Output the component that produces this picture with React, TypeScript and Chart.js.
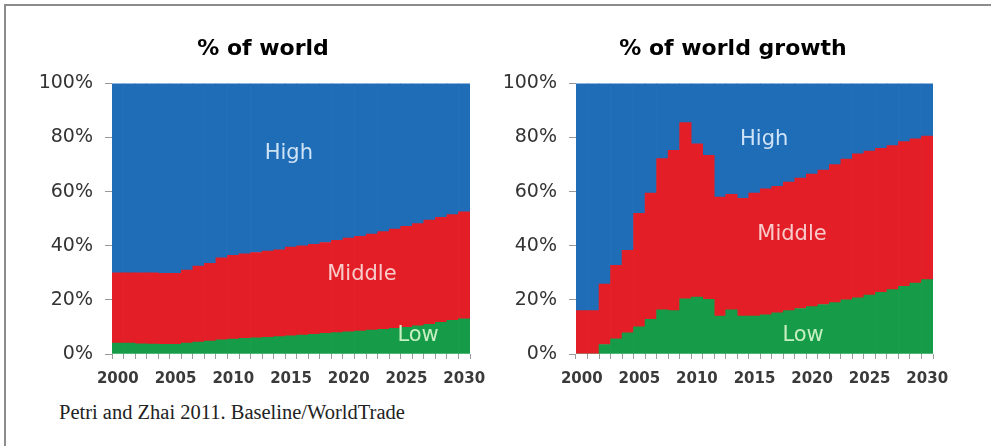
import React, { useEffect, useRef } from "react";
import { Chart, registerables } from "chart.js";

Chart.register(...registerables);

// ---------- DATA ----------
const years = [
  2000, 2001, 2002, 2003, 2004, 2005, 2006, 2007, 2008, 2009,
  2010, 2011, 2012, 2013, 2014, 2015, 2016, 2017, 2018, 2019,
  2020, 2021, 2022, 2023, 2024, 2025, 2026, 2027, 2028, 2029, 2030,
];
const labelledYears = [2000, 2005, 2010, 2015, 2020, 2025, 2030];
const yTickValues = [0, 20, 40, 60, 80, 100];

// % of world (shares, each year sums to 100)
const worldLow = [
  4.0, 4.0, 3.8, 3.7, 3.6, 3.6, 4.0, 4.4, 4.8, 5.2,
  5.5, 5.8, 6.0, 6.2, 6.4, 6.7, 7.0, 7.3, 7.6, 7.9,
  8.2, 8.5, 8.8, 9.1, 9.5, 9.9, 10.4, 11.0, 11.7, 12.4, 13.0,
];
const worldMiddle = [
  26.0, 26.0, 26.2, 26.3, 26.2, 26.2, 27.0, 28.1, 28.7, 30.3,
  31.0, 31.2, 31.5, 31.8, 32.1, 32.8, 33.0, 33.2, 33.6, 34.1,
  34.6, 35.0, 35.5, 36.1, 36.7, 37.3, 37.8, 38.5, 38.8, 39.1, 39.5,
];
const worldHigh = [
  70.0, 70.0, 70.0, 70.0, 70.2, 70.2, 69.0, 67.5, 66.5, 64.5,
  63.5, 63.0, 62.5, 62.0, 61.5, 60.5, 60.0, 59.5, 58.8, 58.0,
  57.2, 56.5, 55.7, 54.8, 53.8, 52.8, 51.8, 50.5, 49.5, 48.5, 47.5,
];

// % of world growth
const growthLow = [
  0.0, 0.0, 3.5, 5.6, 7.8, 10.0, 12.8, 16.3, 16.0, 20.4,
  21.0, 20.2, 14.0, 16.3, 14.0, 14.0, 14.5, 15.2, 16.0, 16.8,
  17.5, 18.3, 19.0, 20.0, 20.8, 21.8, 22.8, 23.8, 25.0, 26.2, 27.5,
];
const growthMiddle = [
  16.0, 16.0, 22.3, 27.2, 30.5, 42.0, 46.7, 55.9, 59.3, 65.1,
  56.7, 53.2, 44.0, 42.7, 43.5, 45.5, 46.5, 46.8, 47.5, 48.2,
  49.0, 49.7, 51.0, 52.0, 53.2, 53.2, 53.2, 53.2, 53.5, 53.3, 53.0,
];
const growthHigh = [
  84.0, 84.0, 74.2, 67.2, 61.7, 48.0, 40.5, 27.8, 24.7, 14.5,
  22.3, 26.6, 42.0, 41.0, 42.5, 40.5, 39.0, 38.0, 36.5, 35.0,
  33.5, 32.0, 30.0, 28.0, 26.0, 25.0, 24.0, 23.0, 21.5, 20.5, 19.5,
];

const seriesNames = ["Low", "Middle", "High"];
const caption = "Petri and Zhai 2011. Baseline/WorldTrade";

// ---------- STYLE ----------
const BLUE = "#1f6db7";
const RED = "#e31e26";
const GREEN = "#169b48";
const FONT = "'DejaVu Sans', sans-serif";

type RegionLabel = { text: string; xFrac: number; y: number; color: string };

const regionLabelsPlugin = {
  id: "regionLabels",
  afterDatasetsDraw(chart: any, _args: any, opts: any) {
    const { ctx, chartArea, scales } = chart;
    ctx.save();
    ctx.font = `21px ${FONT}`;
    ctx.textAlign = "center";
    ctx.textBaseline = "middle";
    for (const l of (opts.items || []) as RegionLabel[]) {
      const x = chartArea.left + l.xFrac * (chartArea.right - chartArea.left);
      const y = scales.y.getPixelForValue(l.y);
      ctx.fillStyle = l.color;
      ctx.fillText(l.text, x, y);
    }
    ctx.restore();
  },
};

type PanelProps = {
  title: string;
  low: number[];
  middle: number[];
  high: number[];
  regionLabels: RegionLabel[];
  left: number;
  top: number;
  width: number;
  height: number;
  yAxisWidth: number;
  rightSpace: number;
};

function Panel(p: PanelProps) {
  const ref = useRef<HTMLCanvasElement | null>(null);
  useEffect(() => {
    if (!ref.current) return;
    const ds = (label: string, data: number[], color: string) => ({
      label,
      data,
      backgroundColor: color,
      borderWidth: 0,
      barPercentage: 1,
      categoryPercentage: 1,
      yAxisID: "y",
    });
    const chart = new Chart(ref.current, {
      type: "bar",
      data: {
        labels: years.map(String),
        datasets: [
          ds(seriesNames[0], p.low, GREEN),
          ds(seriesNames[1], p.middle, RED),
          ds(seriesNames[2], p.high, BLUE),
        ],
      },
      options: {
        animation: false,
        responsive: false,
        layout: { padding: 0 },
        plugins: {
          legend: { display: false },
          tooltip: { enabled: false },
          title: {
            display: true,
            text: p.title,
            color: "#000",
            font: { family: FONT, size: 22, weight: "bold" },
            padding: { top: 6, bottom: 21 },
          },
          regionLabels: { items: p.regionLabels },
        } as any,
        scales: {
          x: {
            stacked: true,
            offset: true,
            grid: {
              display: true,
              drawOnChartArea: false,
              drawTicks: true,
              tickLength: 5,
              offset: true,
              color: "#9a9a9a",
            },
            border: { display: false },
            ticks: {
              autoSkip: false,
              maxRotation: 0,
              padding: 11,
              color: "#3a3a3a",
              font: { family: FONT, size: 15, weight: "bold" },
              callback: (_v: any, i: number) =>
                labelledYears.includes(years[i]) ? String(years[i]) : "",
            },
            afterFit: (s: any) => {
              s.height = 40;
              s.paddingLeft = 0;
              s.paddingRight = 0;
            },
          } as any,
          y: {
            stacked: true,
            min: 0,
            max: 100,
            grid: {
              drawOnChartArea: false,
              drawTicks: true,
              tickLength: 7,
              color: "#9a9a9a",
            },
            border: { display: false },
            ticks: {
              padding: 12,
              color: "#333",
              font: { family: FONT, size: 19 },
              callback: (v: any) => `${v}%`,
            },
            afterBuildTicks: (s: any) => {
              s.ticks = yTickValues.map((v) => ({ value: v }));
            },
            afterFit: (s: any) => {
              s.width = p.yAxisWidth;
            },
          } as any,
          spacer: {
            type: "linear",
            position: "right",
            display: true,
            grid: { display: false },
            border: { display: false },
            ticks: { display: false },
            afterFit: (s: any) => {
              s.width = p.rightSpace;
              s.paddingTop = 0;
              s.paddingBottom = 0;
            },
          } as any,
        },
      },
      plugins: [regionLabelsPlugin as any],
    });
    return () => chart.destroy();
  }, []);
  return (
    <canvas
      ref={ref}
      width={p.width}
      height={p.height}
      style={{ position: "absolute", left: p.left, top: p.top, width: p.width, height: p.height }}
    />
  );
}

export default function App() {
  return (
    <div
      style={{
        position: "absolute",
        left: 0,
        top: 0,
        width: 991,
        height: 446,
        background: "#fff",
        overflow: "hidden",
      }}
    >
      <div
        style={{
          position: "absolute",
          left: 4,
          top: 4,
          width: 991,
          height: 446,
          borderTop: "2px solid #8c8c8c",
          borderLeft: "2px solid #8c8c8c",
        }}
      />
      <Panel
        title="% of world"
        low={worldLow}
        middle={worldMiddle}
        high={worldHigh}
        regionLabels={[
          { text: "High", xFrac: 0.494, y: 74.2, color: "#cfe3f6" },
          { text: "Middle", xFrac: 0.698, y: 29.2, color: "#f8cccc" },
          { text: "Low", xFrac: 0.855, y: 7.0, color: "#c8efc2" },
        ]}
        left={36}
        top={30}
        width={454}
        height={364}
        yAxisWidth={76}
        rightSpace={20}
      />
      <Panel
        title="% of world growth"
        low={growthLow}
        middle={growthMiddle}
        high={growthHigh}
        regionLabels={[
          { text: "High", xFrac: 0.527, y: 79.3, color: "#cfe3f6" },
          { text: "Middle", xFrac: 0.605, y: 44.3, color: "#f8cccc" },
          { text: "Low", xFrac: 0.636, y: 7.0, color: "#c8efc2" },
        ]}
        left={500}
        top={30}
        width={466}
        height={364}
        yAxisWidth={76}
        rightSpace={33}
      />
      <div
        style={{
          position: "absolute",
          left: 59,
          top: 402,
          fontFamily: "'Liberation Serif', serif",
          fontSize: 20.5,
          lineHeight: "20px",
          color: "#222",
          whiteSpace: "nowrap",
        }}
      >
        {caption}
      </div>
    </div>
  );
}
